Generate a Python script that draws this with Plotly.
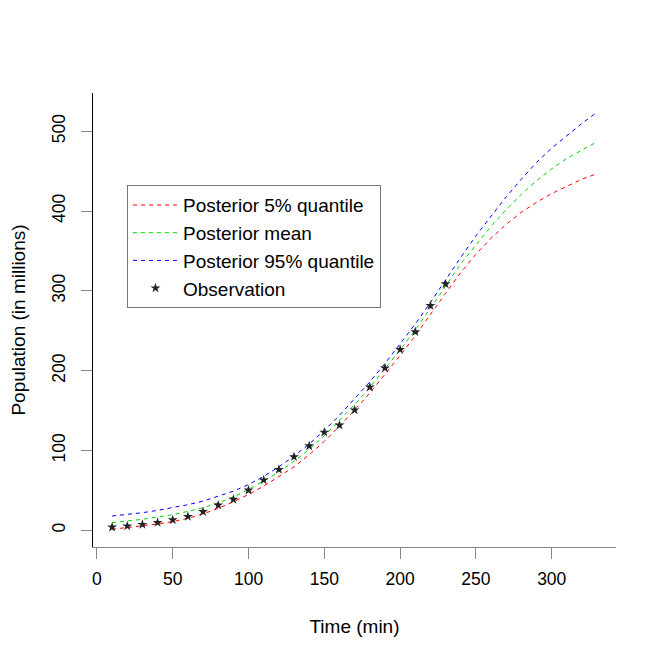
import plotly.graph_objects as go

# observed population (millions) every 10 min
obs_time = [10, 20, 30, 40, 50, 60, 70, 80, 90, 100, 110, 120, 130, 140, 150,
            160, 170, 180, 190, 200, 210, 220, 230]
obs_pop = [3.9, 5.3, 7.2, 9.6, 12.9, 17.1, 23.2, 31.4, 38.6, 50.2, 62.9, 76.0,
           92.0, 105.7, 122.8, 131.7, 150.7, 179.3, 203.2, 226.5, 248.7, 281.4, 308.7]

# posterior curves, t = 10..330
post_time = [10, 20, 30, 40, 50, 60, 70, 80, 90, 100, 110, 120, 130, 140, 150, 160, 170,
             180, 190, 200, 210, 220, 230, 240, 250, 260, 270, 280, 290, 300, 310, 320, 330]
q05 = [1.2, 3.3, 5.4, 7.9, 10.8, 14.9, 20.4, 27.4, 35.7, 44.9, 55.3, 66.9, 79.4, 94.5,
       111.5, 130.5, 150.5, 172, 195, 219, 244, 271, 297, 323, 346, 366, 383.5, 398.5,
       411, 422, 431.5, 440, 447]
post_mean = [9.6, 11.3, 13.7, 16.6, 19.5, 23.7, 28.2, 34.0, 41.9, 51.0, 61.5, 73, 86.5,
             101.5, 118.5, 137.5, 157.5, 179, 202, 226, 251, 278, 306, 334, 358, 381,
             402, 421, 438, 453, 466, 477, 487]
q95 = [17.8, 19.5, 22.0, 24.9, 28.2, 32.0, 36.5, 42.3, 49.0, 57.3, 67.5, 79.5, 93, 108,
       125, 144, 164.5, 186, 209, 233, 258.5, 285.5, 314, 342, 369, 394, 418, 440, 461,
       479, 495, 510, 524]

x_ticks = [0, 50, 100, 150, 200, 250, 300]
y_ticks = [0, 100, 200, 300, 400, 500]

FONT = "Liberation Sans, Arial, sans-serif"

fig = go.Figure()
fig.add_trace(go.Scatter(x=post_time, y=q05, mode="lines", name="Posterior 5% quantile",
                         line=dict(color="rgb(255,0,0)", width=1, dash="4px,4px")))
fig.add_trace(go.Scatter(x=post_time, y=post_mean, mode="lines", name="Posterior mean",
                         line=dict(color="rgb(0,215,0)", width=1, dash="4px,4px")))
fig.add_trace(go.Scatter(x=post_time, y=q95, mode="lines", name="Posterior 95% quantile",
                         line=dict(color="rgb(0,0,255)", width=1, dash="4px,4px")))
fig.add_trace(go.Scatter(x=obs_time, y=obs_pop, mode="markers", name="Observation",
                         marker=dict(symbol="star", size=7.5, color="#222",
                                     line=dict(width=0))))

# page body has an 8px margin, so the plot box is offset accordingly
fig.update_layout(
    width=664, height=664,
    margin=dict(l=85, r=56, t=85, b=125),
    paper_bgcolor="white", plot_bgcolor="white",
    font=dict(family=FONT, size=17.5, color="black"),
    showlegend=True,
    legend=dict(x=0.065, y=0.797, xanchor="left", yanchor="top",
                bordercolor="#777", borderwidth=1, bgcolor="white",
                font=dict(size=19), tracegroupgap=0, itemwidth=45),
)
fig.update_xaxes(range=[-2.6, 342.4], tickvals=x_ticks, showgrid=False, zeroline=False,
                 showline=True, linecolor="#888", linewidth=1, automargin=False,
                 ticks="outside", ticklen=11, tickcolor="#888", tickwidth=1,
                 ticklabelstandoff=5,
                 title=dict(text="Time (min)", standoff=31, font=dict(size=19)))
fig.update_yaxes(range=[-21, 548], tickvals=y_ticks, showgrid=False, zeroline=False,
                 showline=True, linecolor="black", linewidth=1, automargin=False,
                 ticks="outside", ticklen=11, tickcolor="#888", tickwidth=1,
                 tickangle=-90, ticklabelstandoff=9,
                 title=dict(text="Population (in millions)", standoff=26, font=dict(size=19)))

fig.write_html("out.html")
